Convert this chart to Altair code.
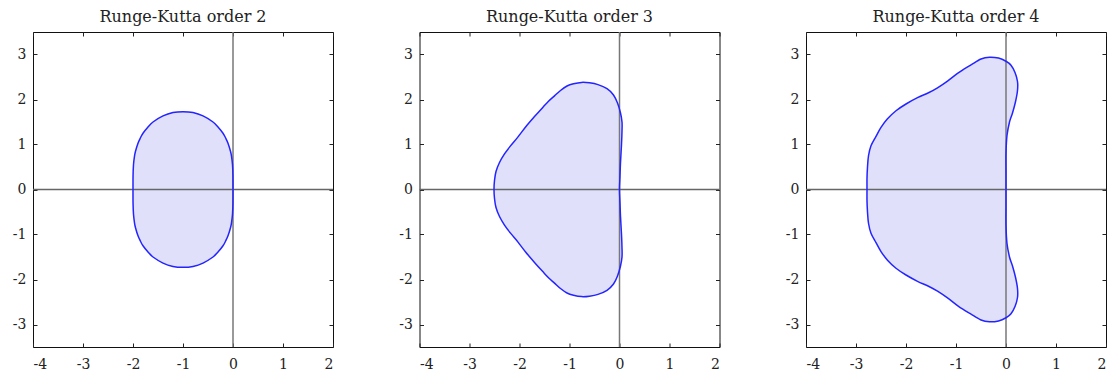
import altair as alt
import pandas as pd

# Stability region boundaries, upper half (Im z >= 0), traced from the origin
# up the right side, over the top and down to the negative real axis.
rk2_re = [0.0, -0.001, -0.01, -0.03, -0.05, -0.10, -0.15, -0.20, -0.30, -0.40, -0.60,
          -0.80, -1.00, -1.20, -1.40, -1.60, -1.70, -1.80, -1.85, -1.90, -1.95,
          -1.97, -1.99, -1.999, -2.00]
rk2_im = [0.0, 0.30, 0.55, 0.74, 0.85, 1.03, 1.15, 1.25, 1.39, 1.50, 1.635,
          1.71, 1.73, 1.71, 1.635, 1.50, 1.39, 1.25, 1.15, 1.03, 0.85,
          0.74, 0.55, 0.30, 0.0]

rk3_re = [0.0, 0.01, 0.02, 0.04, 0.05, 0.05, 0.02, -0.04, -0.12, -0.25, -0.43, -0.60,
          -0.76, -0.92, -1.05, -1.18, -1.30, -1.42, -1.53, -1.70, -1.87, -2.03,
          -2.18, -2.30, -2.40, -2.47, -2.50, -2.51]
rk3_im = [0.0, 0.30, 0.60, 1.00, 1.30, 1.50, 1.70, 1.92, 2.10, 2.24, 2.33, 2.37,
          2.38, 2.35, 2.30, 2.20, 2.08, 1.96, 1.83, 1.62, 1.40, 1.17,
          0.97, 0.79, 0.60, 0.40, 0.20, 0.0]

rk4_re = [0.0, 0.0, 0.0, 0.02, 0.07, 0.13, 0.19, 0.23, 0.23, 0.18, 0.10, 0.0, -0.15,
          -0.33, -0.50, -0.70, -0.85, -0.97, -1.17, -1.37, -1.55, -1.77, -2.00,
          -2.20, -2.37, -2.50, -2.60, -2.70, -2.75, -2.77, -2.78, -2.78]
rk4_im = [0.0, 0.40, 0.80, 1.20, 1.50, 1.70, 1.95, 2.20, 2.40, 2.60, 2.76, 2.85, 2.92,
          2.94, 2.90, 2.77, 2.67, 2.58, 2.41, 2.26, 2.15, 2.04, 1.90,
          1.75, 1.57, 1.38, 1.18, 0.97, 0.75, 0.50, 0.25, 0.0]

titles = ["Runge-Kutta order 2", "Runge-Kutta order 3", "Runge-Kutta order 4"]
x_ticks = [-4, -3, -2, -1, 0, 1, 2]
y_ticks = [-3, -2, -1, 0, 1, 2, 3]

SERIF = "DejaVu Serif"
INK = "#222222"


def closed_loop(re, im):
    """Upper half followed by its mirror image below the real axis."""
    xs = list(re) + list(reversed(re[1:-1]))
    ys = list(im) + [-v for v in reversed(im[1:-1])]
    return pd.DataFrame({"re": xs, "im": ys, "k": range(len(xs))})


def tick_axis(orient, labels):
    # offset -4 with tickSize 4 puts the ticks just inside the frame
    kw = dict(orient=orient, tickSize=4, offset=-4, domain=False, grid=False,
              tickColor=INK, tickWidth=1, title=None)
    if orient in ("bottom", "top"):
        kw["values"] = x_ticks
    else:
        kw["values"] = y_ticks
    if labels:
        kw.update(labels=True, labelFont=SERIF, labelFontSize=14, labelColor=INK,
                  labelPadding=10 if orient == "bottom" else 7,
                  labelExpr="'' + datum.value")
    else:
        kw.update(labels=False)
    return alt.Axis(**kw)


def panel(re, im, title):
    df = closed_loop(re, im)
    zero = pd.DataFrame({"zero": [0]})
    xs = alt.Scale(domain=[-4, 2], nice=False, zero=False)
    ys = alt.Scale(domain=[-3.5, 3.5], nice=False, zero=False)

    fill = alt.Chart(df).mark_line(
        interpolate="cardinal-closed", fill="#e0e0fb", strokeWidth=0, strokeOpacity=0
    ).encode(
        x=alt.X("re:Q", scale=xs, axis=tick_axis("bottom", True)),
        y=alt.Y("im:Q", scale=ys, axis=tick_axis("left", True)),
        order="k:Q",
    )
    hline = alt.Chart(zero).mark_rule(color="#666666", strokeWidth=1.5).encode(
        y=alt.Y("zero:Q", scale=ys, axis=tick_axis("right", False)),
    )
    vline = alt.Chart(zero).mark_rule(color="#777777", strokeWidth=1.5).encode(
        x=alt.X("zero:Q", scale=xs, axis=tick_axis("top", False)),
    )
    outline = alt.Chart(df).mark_line(
        interpolate="cardinal-closed", color="#2424ff", strokeWidth=1.5
    ).encode(
        x=alt.X("re:Q", scale=xs, axis=None),
        y=alt.Y("im:Q", scale=ys, axis=None),
        order="k:Q",
    )
    return alt.layer(fill, hline, vline, outline).resolve_axis(
        x="independent", y="independent"
    ).properties(
        width=300, height=315,
        view=alt.ViewBackground(stroke="#111111", strokeWidth=1),
        title=alt.Title(title, font=SERIF, fontSize=16, fontWeight="normal",
                        color=INK, offset=6),
    )


chart = alt.hconcat(
    panel(rk2_re, rk2_im, titles[0]),
    panel(rk3_re, rk3_im, titles[1]),
    panel(rk4_re, rk4_im, titles[2]),
    spacing=86.5,
    bounds="flush",
).properties(
    padding={"left": 11, "top": 8, "right": 0, "bottom": 0},
).configure_view(
    stroke="#111111", strokeWidth=1
).configure(
    background="white"
)

chart.save("out.html", embed_options={"renderer": "svg", "actions": False})
